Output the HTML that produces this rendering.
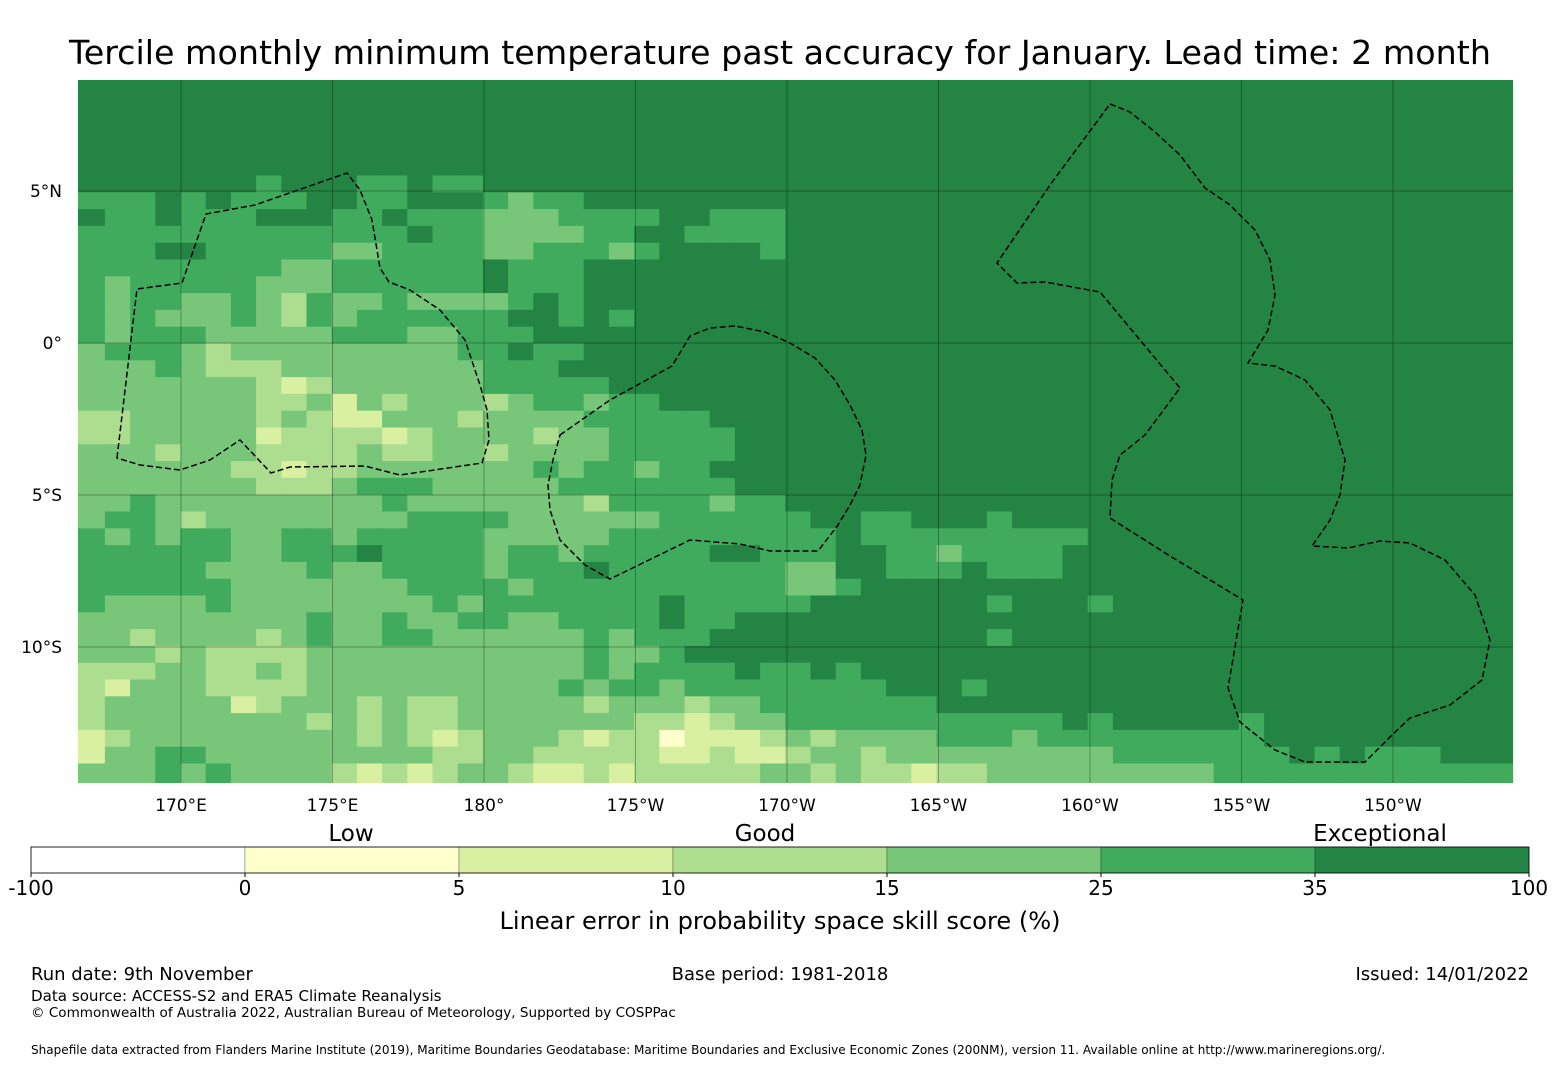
<!DOCTYPE html>
<html><head><meta charset="utf-8"><style>
html,body{margin:0;padding:0;background:#fff;}
svg{display:block;font-family:"DejaVu Sans","Liberation Sans",sans-serif;}
</style></head><body>
<svg id="chart" width="1560" height="1065" viewBox="0 0 1560 1065" xmlns="http://www.w3.org/2000/svg">
<text x="780" y="64" text-anchor="middle" font-size="33.3" fill="#000">Tercile monthly minimum temperature past accuracy for January. Lead time: 2 month</text>
<defs><clipPath id="mapclip"><rect x="78" y="80" width="1435" height="703"/></clipPath></defs>
<g id="cells" clip-path="url(#mapclip)"></g>
<g id="grid" clip-path="url(#mapclip)"></g>
<g fill="none" stroke="#000" stroke-width="1.5" stroke-dasharray="6,3" clip-path="url(#mapclip)">
<polygon points="117,458 137,289 182,283 206,214 255,205 347,173 360,190 372,220 380,268 389,282 410,290 440,310 465,340 480,385 487,410 489,440 482,463 400,475 365,466 290,467 271,473 240,440 210,460 180,470 140,465"/>
<polygon points="560,435 610,400 672,366 690,336 710,328 735,326 765,332 790,343 815,358 835,380 850,405 862,430 866,455 860,485 850,505 838,525 818,551 770,551 740,544 690,540 610,579 585,565 560,540 550,510 548,485 553,460"/>
<polygon points="1110,104 1130,112 1155,132 1180,155 1205,188 1230,205 1255,230 1270,260 1275,295 1268,330 1248,363 1275,366 1305,380 1330,410 1345,460 1340,495 1330,520 1312,546 1348,548 1380,541 1410,543 1445,560 1475,595 1490,640 1482,680 1450,705 1410,718 1390,737 1365,762 1305,762 1275,750 1240,722 1228,688 1243,600 1215,583 1170,556 1110,518 1112,480 1120,455 1145,435 1180,388 1140,340 1100,292 1045,282 1017,283 997,263 1050,185"/>
</g>
<g id="ylabels" font-size="17" fill="#000"></g>
<g id="xlabels" font-size="17" fill="#000"></g>
<g id="cbar"></g>
<text x="351" y="841" text-anchor="middle" font-size="23">Low</text>
<text x="765" y="841" text-anchor="middle" font-size="23">Good</text>
<text x="1380" y="841" text-anchor="middle" font-size="23">Exceptional</text>
<text x="780" y="929" text-anchor="middle" font-size="24.1">Linear error in probability space skill score (%)</text>
<text x="31" y="980" font-size="18">Run date: 9th November</text>
<text x="780" y="980" text-anchor="middle" font-size="18">Base period: 1981-2018</text>
<text x="1529" y="980" text-anchor="end" font-size="18">Issued: 14/01/2022</text>
<text x="31" y="1001" font-size="15.1">Data source: ACCESS-S2 and ERA5 Climate Reanalysis</text>
<text x="31" y="1017" font-size="13.55">© Commonwealth of Australia 2022, Australian Bureau of Meteorology, Supported by COSPPac</text>
<text x="31" y="1054" font-size="12.05">Shapefile data extracted from Flanders Marine Institute (2019), Maritime Boundaries Geodatabase: Maritime Boundaries and Exclusive Economic Zones (200NM), version 11. Available online at http://www.marineregions.org/.</text>
</svg>
<script>
const categoryColors = ["#ffffff","#ffffcc","#d9f0a3","#addd8e","#78c679","#41ab5d","#238443"];
const cbarBounds = ["-100","0","5","10","15","25","35","100"];
const lonTicks = [170,175,180,185,190,195,200,205,210];
const lonTickLabels = ["170°E","175°E","180°","175°W","170°W","165°W","160°W","155°W","150°W"];
const latTicks = [5,0,-5,-10];
const latTickLabels = ["5°N","0°","5°S","10°S"];
const cellRows = [
"6","6","6","6","6","6",
"6666666566655655",
"55565655566556665455",
"6556555666556555444555566555",
"5555555555555655444455665555",
"555665555544555544555456666566",
"55555555445555556555",
"54555554445555556555",
"54554454354454444565",
"5454445435455555566565",
"545554444455544555",
"45554344444444455655",
"44454333444444445556",
"444444432344444455555",
"44444443342434443455455",
"3344444343224443444455555",
"33444442333323444434455555",
"44434443333433443444455555",
"4444443323344444445455455",
"44444443334555444445555555",
"4454444444445444444435555455",
"4554344444444555544444455555566556665",
"5454554455455555444445555555556555555555",
"555555445556555545545555566555665545555",
"555554444544555545556555555544665556555",
"5555554444444555545555555555445",
"54444544444444545555555655555666666656665",
"44444444454454455445555655",
"4434444345445544444454555666666666665",
"444343333444444444445445",
"3334433434444444444454555565565",
"324443333444444444454554555555556665",
"3444442344434334444434443445555555",
"34444444434343344444443323445555555555565666665",
"23444444444343234443233122234344445554555555555",
"244554444444443344333332232234434444444445555555656555666",
"444545444432323443223233333443433233444444444555555555555",
"444545444432323443223233333443433233444444444555555555555"
];
const NS="http://www.w3.org/2000/svg";
const mapLeft=78, mapTop=80, mapRight=1513, mapBottom=783;
const colX0=79.7, colW=25.2, rowY7=192.3, rowH=16.8, nCols=57;
function lonX(lon){return 181+(lon-170)*30.3;}
function latY(lat){return 343-lat*30.4;}
const cellsG=document.getElementById('cells');
cellRows.forEach((row,r)=>{
  const s=(row+"6".repeat(nCols)).slice(0,nCols);
  for(let k=0;k<nCols;k++){
    const v=+s[k];
    let x=colX0+k*colW, w=colW;
    if(k===0){x=mapLeft-1;w=colW+colX0-mapLeft+1;}
    const y=rowY7+(r-7)*rowH;
    const rc=document.createElementNS(NS,'rect');
    rc.setAttribute('x',x.toFixed(2));rc.setAttribute('y',y.toFixed(2));
    rc.setAttribute('width',(w+0.4).toFixed(2));rc.setAttribute('height',(rowH+0.4).toFixed(2));
    rc.setAttribute('fill',categoryColors[v]);
    
    
    cellsG.appendChild(rc);
  }
});
const gridG=document.getElementById('grid');
const xl=document.getElementById('xlabels');
lonTicks.forEach((lon,i)=>{
  const x=lonX(lon);
  const l=document.createElementNS(NS,'line');
  l.setAttribute('x1',x);l.setAttribute('x2',x);l.setAttribute('y1',mapTop);l.setAttribute('y2',mapBottom);
  l.setAttribute('stroke','rgba(0,0,0,0.3)');l.setAttribute('stroke-width','1');
  
  
  gridG.appendChild(l);
  const t=document.createElementNS(NS,'text');
  t.setAttribute('x',x);t.setAttribute('y',811);t.setAttribute('text-anchor','middle');
  t.textContent=lonTickLabels[i];
  
  
  xl.appendChild(t);
});
const yl=document.getElementById('ylabels');
latTicks.forEach((lat,i)=>{
  const y=latY(lat);
  const l=document.createElementNS(NS,'line');
  l.setAttribute('x1',mapLeft);l.setAttribute('x2',mapRight);l.setAttribute('y1',y);l.setAttribute('y2',y);
  l.setAttribute('stroke','rgba(0,0,0,0.3)');l.setAttribute('stroke-width','1');
  
  
  gridG.appendChild(l);
  const t=document.createElementNS(NS,'text');
  t.setAttribute('x',62);t.setAttribute('y',y+6);t.setAttribute('text-anchor','end');
  t.textContent=latTickLabels[i];
  
  
  yl.appendChild(t);
});
const cb=document.getElementById('cbar');
const cbL=31, cbR=1529, cbT=847, cbH=26, seg=(cbR-cbL)/(cbarBounds.length-1);
for(let i=0;i<cbarBounds.length-1;i++){
  const rc=document.createElementNS(NS,'rect');
  rc.setAttribute('x',cbL+i*seg);rc.setAttribute('y',cbT);rc.setAttribute('width',seg);rc.setAttribute('height',cbH);
  rc.setAttribute('fill',categoryColors[i]);rc.setAttribute('stroke','rgba(0,0,0,0.25)');rc.setAttribute('stroke-width','1');
  
  
  cb.appendChild(rc);
}
const ol=document.createElementNS(NS,'rect');
ol.setAttribute('x',cbL);ol.setAttribute('y',cbT);ol.setAttribute('width',cbR-cbL);ol.setAttribute('height',cbH);
ol.setAttribute('fill','none');ol.setAttribute('stroke','#000');ol.setAttribute('stroke-width','0.8');


cb.appendChild(ol);
cbarBounds.forEach((b,i)=>{
  const x=cbL+i*seg;
  const tk=document.createElementNS(NS,'line');
  tk.setAttribute('x1',x);tk.setAttribute('x2',x);tk.setAttribute('y1',cbT+cbH);tk.setAttribute('y2',cbT+cbH+4);
  tk.setAttribute('stroke','#000');
  
  
  cb.appendChild(tk);
  const t=document.createElementNS(NS,'text');
  t.setAttribute('x',x);t.setAttribute('y',895);t.setAttribute('text-anchor','middle');t.setAttribute('font-size','20');
  t.textContent=b;
  
  
  cb.appendChild(t);
});
</script>
</body></html>
